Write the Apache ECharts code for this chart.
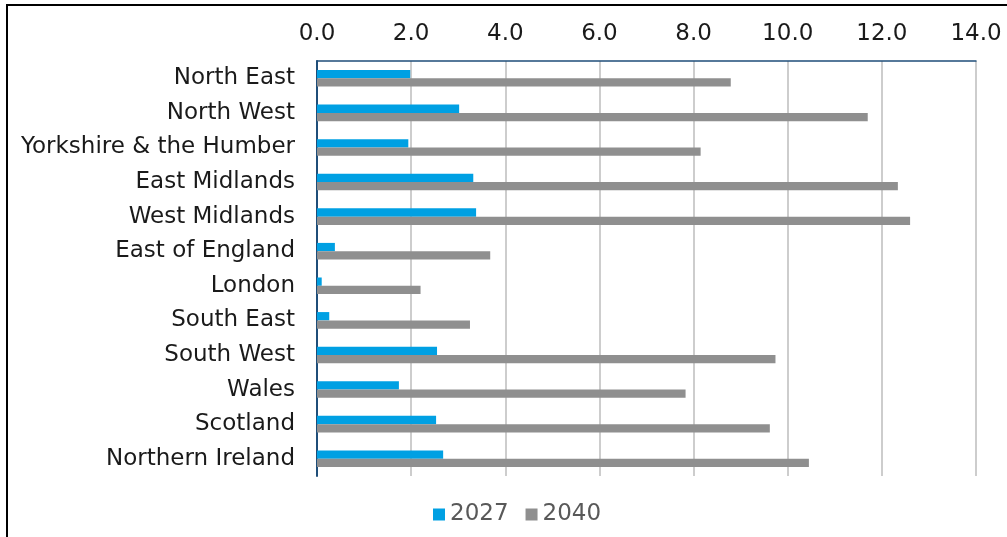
<!DOCTYPE html>
<html>
<head>
<meta charset="utf-8">
<title>Regional values, 2027 and 2040</title>
<script src="https://cdn.jsdelivr.net/npm/echarts@6/dist/echarts.min.js"></script>
<style>
  html, body { margin: 0; padding: 0; background: #ffffff; }
  #chart { width: 1007px; height: 537px; }
</style>
</head>
<body>
<div id="chart"></div>
<script>
// Regions, listed top to bottom
const regions = [
  'North East', 'North West', 'Yorkshire & the Humber', 'East Midlands',
  'West Midlands', 'East of England', 'London', 'South East',
  'South West', 'Wales', 'Scotland', 'Northern Ireland'
];

// Values per region
const values2027 = [1.98, 3.02, 1.94, 3.32, 3.38, 0.38, 0.10, 0.26, 2.55, 1.74, 2.53, 2.68];
const values2040 = [8.79, 11.70, 8.15, 12.34, 12.60, 3.68, 2.20, 3.25, 9.74, 7.83, 9.62, 10.45];

const seriesNames = ['2027', '2040'];

// Value axis range
const axisMin = 0;
const axisMax = 14;
const axisStep = 2;

const FONT = 'DejaVu Sans';
const chart = echarts.init(document.getElementById('chart'), null, { renderer: 'canvas' });

chart.setOption({
  backgroundColor: '#ffffff',
  animation: false,
  textStyle: { fontFamily: FONT },
  graphic: [
    // frame edges
    { type: 'line', shape: { x1: 6, y1: 5, x2: 1007, y2: 5 }, style: { stroke: '#000000', lineWidth: 2 } },
    { type: 'line', shape: { x1: 7, y1: 4, x2: 7, y2: 537 }, style: { stroke: '#000000', lineWidth: 2 } }
  ],
  grid: { left: 317, right: 31, top: 61, bottom: 61, containLabel: false },
  legend: {
    data: seriesNames,
    left: 428,
    top: 498,
    itemWidth: 12,
    itemHeight: 12,
    itemGap: 17,
    icon: 'rect',
    textStyle: { fontFamily: FONT, fontSize: 23, color: '#595959' }
  },
  xAxis: {
    type: 'value',
    position: 'top',
    min: axisMin,
    max: axisMax,
    interval: axisStep,
    axisLine: { show: true, lineStyle: { color: '#1F4E79', width: 1.5 } },
    axisTick: { show: false },
    axisLabel: {
      fontFamily: FONT, fontSize: 23, color: '#1a1a1a', margin: 15,
      formatter: v => v.toFixed(1)
    },
    splitLine: { show: true, lineStyle: { color: '#BDBDBD', width: 1.5 } }
  },
  yAxis: {
    type: 'category',
    data: regions,
    inverse: true,
    axisLine: { show: true, lineStyle: { color: '#1F4E79', width: 2 } },
    axisTick: { show: false },
    axisLabel: {
      fontFamily: FONT, fontSize: 23, color: '#1a1a1a', margin: 22,
      padding: [6, 0, 0, 0]
    },
    splitLine: { show: false }
  },
  series: [
    {
      name: seriesNames[0], type: 'bar', data: values2027,
      itemStyle: { color: '#00A0E3' },
      barGap: '0%', barCategoryGap: '52%'
    },
    {
      name: seriesNames[1], type: 'bar', data: values2040,
      itemStyle: { color: '#8F8F8F' },
      barGap: '0%', barCategoryGap: '52%'
    }
  ]
});
</script>
</body>
</html>
